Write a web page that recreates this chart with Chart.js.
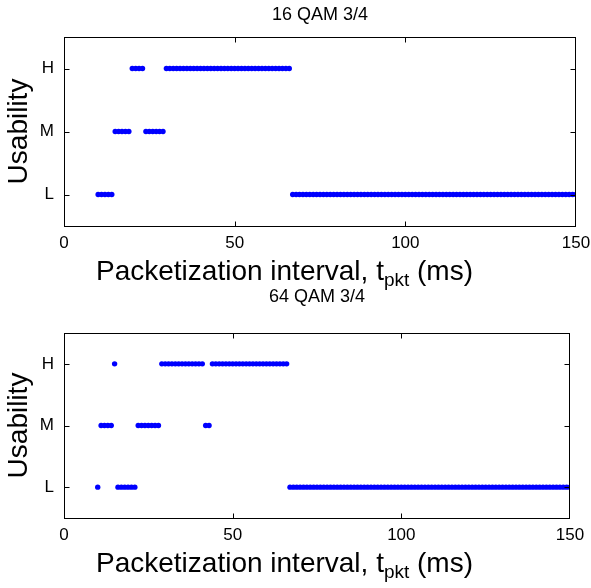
<!DOCTYPE html>
<html><head><meta charset="utf-8">
<script src="https://cdn.jsdelivr.net/npm/chart.js@4/dist/chart.umd.min.js"></script>
<style>
html,body{margin:0;padding:0;background:#fff;width:591px;height:588px;overflow:hidden}
.wrap{position:absolute;left:0;top:0;width:591px;height:588px}
</style></head><body>
<div class="wrap"><canvas id="c1"></canvas></div>
<div class="wrap"><canvas id="c2"></canvas></div>
<script>
// Packetization interval (ms)
const tPkt = [10,11,12,13,14,15,16,17,18,19,20,21,22,23,24,25,26,27,28,29,30,31,32,33,34,35,36,37,38,39,40,
41,42,43,44,45,46,47,48,49,50,51,52,53,54,55,56,57,58,59,60,61,62,63,64,65,66,67,68,69,70,
71,72,73,74,75,76,77,78,79,80,81,82,83,84,85,86,87,88,89,90,91,92,93,94,95,96,97,98,99,100,
101,102,103,104,105,106,107,108,109,110,111,112,113,114,115,116,117,118,119,120,121,122,123,124,125,126,127,128,129,130,
131,132,133,134,135,136,137,138,139,140,141,142,143,144,145,146,147,148,149,150];
// Usability per interval (one letter per ms, starting at 10 ms)
const usability16QAM = (
  "LLLLL" + "MMMMM" + "HHHH" + "MMMMMM" +
  "HHHHHHHHHHHHHHHHHHHHHHHHHHHHHHHHHHHHH" +
  "LLLLLLLLLLLLLLLLLLLLLLLLLLLLLLLLLLLLLLLLLLLLLLLLLLLLLLLLLLLLLLLLLLLLLLLLLLLLLLLLLLLL").split("");
const usability64QAM = (
  "L" + "MMMM" + "H" + "LLLLLL" + "MMMMMMM" +
  "HHHHHHHHHHHHH" + "MM" + "HHHHHHHHHHHHHHHHHHHHHHH" +
  "LLLLLLLLLLLLLLLLLLLLLLLLLLLLLLLLLLLLLLLLLLLLLLLLLLLLLLLLLLLLLLLLLLLLLLLLLLLLLLLLLLLL").split("");
const levelNames = ["L","M","H"];
const xTicks = [0,50,100,150];
const titles = ["16 QAM 3/4","64 QAM 3/4"];

const FONT = "'Liberation Sans', Arial, sans-serif";
const levelValue = {L:1, M:2, H:3};

const framePlugin = {
  id:'frame',
  afterDraw(chart, args, opts){
    const ctx = chart.ctx, a = chart.chartArea;
    const xs = chart.scales.x, ys = chart.scales.y;
    ctx.save();
    ctx.strokeStyle = '#000'; ctx.lineWidth = 1;
    const L = Math.round(a.left)+0.5, R = Math.round(a.right)-0.5, T = Math.round(a.top)+0.5, B = Math.round(a.bottom)+0.5;
    ctx.strokeRect(L, T, R-L, B-T);
    ctx.beginPath();
    const tl = 5;
    xTicks.slice(1, -1).forEach(v=>{
      const px = Math.round(xs.getPixelForValue(v))+0.5;
      ctx.moveTo(px, B); ctx.lineTo(px, B-tl);
      ctx.moveTo(px, T); ctx.lineTo(px, T+tl);
    });
    [1,2,3].forEach(v=>{
      const py = Math.round(ys.getPixelForValue(v))+0.5;
      ctx.moveTo(L, py); ctx.lineTo(L+tl, py);
      ctx.moveTo(R, py); ctx.lineTo(R-tl, py);
    });
    ctx.stroke();
    // title
    ctx.fillStyle = '#000';
    ctx.textAlign = 'center'; ctx.textBaseline = 'middle';
    ctx.font = '18px ' + FONT;
    ctx.fillText(opts.title, (a.left+a.right)/2, a.top - opts.titleGap);
    // y label
    ctx.save();
    ctx.translate(19, (a.top+a.bottom)/2);
    ctx.rotate(-Math.PI/2);
    ctx.font = '28px ' + FONT;
    ctx.fillText('Usability', 0, 0);
    ctx.restore();
    // x label with subscript
    const main1 = 'Packetization interval, t', sub = 'pkt', main2 = ' (ms)';
    ctx.font = '28px ' + FONT; const w1 = ctx.measureText(main1).width;
    ctx.font = '19px ' + FONT; const w2 = ctx.measureText(sub).width;
    const x0 = 96;
    const yb = a.bottom + 54;
    ctx.textAlign = 'left'; ctx.textBaseline = 'alphabetic';
    ctx.font = '28px ' + FONT; ctx.fillText(main1, x0, yb);
    ctx.font = '19px ' + FONT; ctx.fillText(sub, x0+w1, yb+6);
    ctx.font = '28px ' + FONT; ctx.fillText(main2, x0+w1+w2, yb);
    ctx.restore();
  }
};

function makeChart(id, levels, title, titleGap, pad){
  const pts = levels.map((u,i)=>({x:tPkt[i], y:levelValue[u]}));
  return new Chart(document.getElementById(id), {
    type:'scatter',
    data:{datasets:[{data:pts, backgroundColor:'#0000ff', borderColor:'#0000ff', pointRadius:2.7, pointBorderWidth:0, pointHoverRadius:2.7}]},
    options:{
      responsive:true, maintainAspectRatio:false, animation:false, devicePixelRatio:1,
      events:[],
      layout:{padding:pad},
      plugins:{legend:{display:false}, tooltip:{enabled:false}, frame:{title:title, titleGap:titleGap}},
      scales:{
        x:{type:'linear', min:0, max:150,
           afterBuildTicks(s){ s.ticks = xTicks.map(v=>({value:v})); },
           afterFit(s){ s.height = 50; s.paddingLeft = 0; s.paddingRight = 0; },
           grid:{display:false, drawTicks:false}, border:{display:false},
           ticks:{color:'#000', font:{family:FONT, size:17}, padding:7, maxRotation:0}},
        y:{type:'linear', min:0.5, max:3.5,
           afterBuildTicks(s){ s.ticks = [1,2,3].map(v=>({value:v})); },
           afterFit(s){ s.width = 64; s.paddingTop = 0; s.paddingBottom = 0; },
           grid:{display:false, drawTicks:false}, border:{display:false},
           ticks:{color:'#000', font:{family:FONT, size:17}, padding:10,
                  callback:(v)=>levelNames[v-1]}}
      }
    },
    plugins:[framePlugin]
  });
}
makeChart('c1', usability16QAM, titles[0], 22, {top:37, right:15, left:0, bottom:588-226-50});
makeChart('c2', usability64QAM, titles[1], 36, {top:333, right:21, left:0, bottom:588-518-50});
</script></body></html>
